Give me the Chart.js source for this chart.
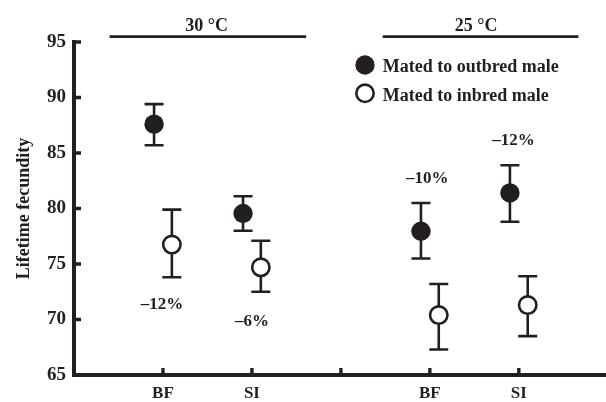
<!DOCTYPE html>
<html><head><meta charset="utf-8">
<script src="https://cdn.jsdelivr.net/npm/chart.js@4"></script>
<style>html,body{margin:0;padding:0;background:#fff}#wrap{width:606px;height:402px}</style>
</head><body><div id="wrap"><canvas id="c" width="606" height="402"></canvas></div>
<script>
// ---- data ----
const slotLabels   = ['BF', 'SI', '', 'BF', 'SI'];
const temperatures = ['30 °C', '25 °C'];
const outbredMean  = [87.6, 79.55, null, 77.95, 81.4];
const outbredLow   = [85.7, 78.0, null, 75.5, 78.8];
const outbredHigh  = [89.4, 81.1, null, 80.5, 83.9];
const inbredMean   = [76.75, 74.7, null, 70.4, 71.3];
const inbredLow    = [73.8, 72.5, null, 67.3, 68.5];
const inbredHigh   = [79.9, 77.1, null, 73.2, 73.9];
const changeLabels = ['\u201312%', '\u20136%', '', '\u201310%', '\u201312%'];
const yTickValues  = [65, 70, 75, 80, 85, 90, 95];
const seriesNames  = ['Mated to outbred male', 'Mated to inbred male'];

// ---- style ----
const INK = '#231f20';
const FONT = '"Liberation Serif", "Times New Roman", serif';
const DODGE = 0.1;

function pts(mean, low, high, off) {
  const out = [];
  mean.forEach((m, i) => { if (m !== null) out.push({x: i + 1 + off, y: m, low: low[i], high: high[i]}); });
  return out;
}

const errorBars = {
  id: 'errorBars',
  beforeDatasetsDraw(chart) {
    const {ctx, scales: {x, y}} = chart;
    ctx.save();
    ctx.strokeStyle = INK; ctx.lineWidth = 2.6; ctx.lineCap = 'butt';
    chart.data.datasets.forEach(ds => {
      ds.data.forEach(p => {
        const px = x.getPixelForValue(p.x);
        const yt = y.getPixelForValue(p.high), yb = y.getPixelForValue(p.low);
        ctx.beginPath();
        ctx.moveTo(px, yt); ctx.lineTo(px, yb);
        ctx.moveTo(px - 9.5, yt); ctx.lineTo(px + 9.5, yt);
        ctx.moveTo(px - 9.5, yb); ctx.lineTo(px + 9.5, yb);
        ctx.stroke();
      });
    });
    ctx.restore();
  }
};

const decorations = {
  id: 'decorations',
  afterDraw(chart, args, opts) {
    const {ctx, scales: {x, y}, chartArea} = chart;
    ctx.save();
    ctx.fillStyle = INK; ctx.strokeStyle = INK;
    // inward ticks
    ctx.lineWidth = 3.4;
    ctx.beginPath();
    y.ticks.forEach(t => { const py = y.getPixelForValue(t.value); ctx.moveTo(chartArea.left, py); ctx.lineTo(chartArea.left + 7, py); });
    x.ticks.forEach(t => { const px = x.getPixelForValue(t.value); ctx.moveTo(px, chartArea.bottom); ctx.lineTo(px, chartArea.bottom - 7); });
    ctx.stroke();
    // x category labels
    ctx.font = 'bold 17px ' + FONT;
    ctx.textAlign = 'center'; ctx.textBaseline = 'middle';
    x.ticks.forEach(t => {
      const lab = slotLabels[t.value - 1];
      if (lab) ctx.fillText(lab, x.getPixelForValue(t.value), chartArea.bottom + 18.5);
    });
    // group headers
    ctx.font = 'bold 18px ' + FONT;
    ctx.textAlign = 'center'; ctx.textBaseline = 'alphabetic';
    ctx.lineWidth = 2.8;
    opts.groups.forEach((g, i) => {
      const a = x.getPixelForValue(g.from), b = x.getPixelForValue(g.to);
      ctx.beginPath(); ctx.moveTo(a, 36.7); ctx.lineTo(b, 36.7); ctx.stroke();
      ctx.fillText(temperatures[i], x.getPixelForValue(g.textAt), 30.7);
    });
    // percentage change labels
    ctx.font = 'bold 17px ' + FONT;
    ctx.textBaseline = 'middle';
    changeLabels.forEach((t, i) => {
      if (!t) return;
      const a = opts.labelAnchors[i];
      ctx.fillText(t, x.getPixelForValue(a.x), y.getPixelForValue(a.y));
    });
    // legend
    ctx.textAlign = 'left'; ctx.textBaseline = 'alphabetic';
    ctx.font = 'bold 18px ' + FONT;
    const L = opts.legend;
    ctx.beginPath(); ctx.arc(L.x, L.y1, 9.7, 0, Math.PI * 2); ctx.fill();
    ctx.beginPath(); ctx.arc(L.x, L.y2, 8.7, 0, Math.PI * 2);
    ctx.fillStyle = '#fff'; ctx.fill(); ctx.lineWidth = 2.6; ctx.stroke();
    ctx.fillStyle = INK;
    ctx.fillText(seriesNames[0], L.tx, L.y1 + 6.7);
    ctx.fillText(seriesNames[1], L.tx, L.y2 + 7.4);
    ctx.restore();
  }
};

new Chart(document.getElementById('c'), {
  type: 'scatter',
  data: {
    datasets: [
      { label: seriesNames[0], data: pts(outbredMean, outbredLow, outbredHigh, -DODGE),
        pointRadius: 9.7, pointHoverRadius: 9.7, pointBackgroundColor: INK, pointBorderWidth: 0, pointBorderColor: INK, clip: false },
      { label: seriesNames[1], data: pts(inbredMean, inbredLow, inbredHigh, DODGE),
        pointRadius: 8.7, pointHoverRadius: 8.7, pointBackgroundColor: '#fff', pointBorderWidth: 2.6, pointBorderColor: INK, clip: false }
    ]
  },
  options: {
    responsive: false, animation: false, devicePixelRatio: 1,
    layout: { autoPadding: false, padding: { top: 42, left: 0, right: 0, bottom: 0 } },
    plugins: {
      legend: { display: false }, tooltip: { enabled: false },
      decorations: {
        groups: [ {from: 0.40, to: 2.61, textAt: 1.49}, {from: 3.47, to: 5.67, textAt: 4.52} ],
        labelAnchors: [ {x: 0.99, y: 71.36}, {x: 2.0, y: 69.8}, null, {x: 3.97, y: 82.65}, {x: 4.94, y: 86.1} ],
        legend: { x: 365, y1: 65, y2: 93.3, tx: 382.7 }
      }
    },
    scales: {
      x: {
        type: 'linear', min: 0, max: 5.98, position: 'bottom',
        afterBuildTicks: s => { s.ticks = slotLabels.map((_, i) => ({ value: i + 1 })); },
        afterFit: s => { s.height = 27; },
        grid: { display: false, drawTicks: false },
        border: { display: true, width: 4, color: INK },
        ticks: { display: false }
      },
      y: {
        min: 65, max: 95,
        afterBuildTicks: s => { s.ticks = yTickValues.map(v => ({ value: v })); },
        afterFit: s => { s.width = 74; },
        grid: { display: false, drawTicks: false },
        border: { display: true, width: 4, color: INK },
        ticks: { padding: 8, color: INK, font: { family: FONT, size: 19, weight: 'bold' } },
        title: { display: true, text: 'Lifetime fecundity', color: INK, padding: { top: 14, bottom: 0 },
          font: { family: FONT, size: 18, weight: 'bold' } }
      }
    }
  },
  plugins: [errorBars, decorations]
});
</script></body></html>
